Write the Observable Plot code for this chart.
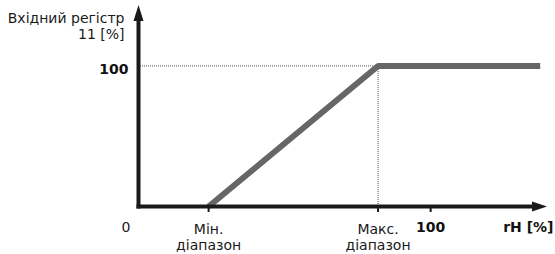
<!DOCTYPE html>
<html>
<head>
<meta charset="utf-8">
<script src="https://cdn.jsdelivr.net/npm/d3@7"></script>
<script src="https://cdn.jsdelivr.net/npm/@observablehq/plot@0.6"></script>
<style>
  html, body { margin: 0; padding: 0; background: #fff; }
  #chart svg { display: block; }
</style>
</head>
<body>
<div id="chart"></div>
<script>
// ---- data ----
const xDomain = [0, 140];
const yDomain = [0, 143];
const seriesX = [24, 82, 137.5];
const seriesY = [0, 100, 100];
const xTickValues = [24, 82, 100];
const xTickLabels = ["Мін.\nдіапазон", "Макс.\nдіапазон", "100"];
const xTickBold = [false, false, true];
const yTickValues = [100];
const yTickLabels = ["100"];
const originLabel = "0";
const xAxisTitle = "rH [%]";
const yAxisTitle = "Вхідний регістр\n11 [%]";

const font = "DejaVu Sans, Verdana, sans-serif";
const series = seriesX.map((x, i) => ({x, y: seriesY[i]}));
const xTicks = xTickValues.map((v, i) => ({x: v, label: xTickLabels[i], bold: xTickBold[i]}));
const yTicks = yTickValues.map((v, i) => ({y: v, label: yTickLabels[i]}));
const kneeX = seriesX[1], kneeY = seriesY[1];

function axesMark(index, scales, values, dimensions) {
  const x = scales.x, y = scales.y;
  const x0 = x(xDomain[0]) + 0.5, xE = x(xDomain[1]);
  const y0 = y(yDomain[0]) + 0.5, yT = y(yDomain[1]);
  const g = d3.create("svg:g");
  const col = "#1a1a1a";
  g.append("line").attr("x1", x0 - 2).attr("x2", xE - 14).attr("y1", y0).attr("y2", y0)
    .attr("stroke", col).attr("stroke-width", 4);
  g.append("line").attr("x1", x0).attr("x2", x0).attr("y1", y0 + 2).attr("y2", yT + 15)
    .attr("stroke", col).attr("stroke-width", 4);
  g.append("path").attr("d", `M${xE - 15},${y0 - 5}L${xE},${y0}L${xE - 15},${y0 + 5}Z`).attr("fill", col);
  g.append("path").attr("d", `M${x0 - 5},${yT + 16}L${x0},${yT}L${x0 + 5},${yT + 16}Z`).attr("fill", col);
  return g.node();
}

const FS = 14;
const chart = Plot.plot({
  width: 555,
  height: 254,
  marginLeft: 138,
  marginRight: 8,
  marginTop: 5,
  marginBottom: 48,
  style: {fontFamily: font, fontSize: FS + "px", background: "#fff", color: "#1a1a1a", overflow: "visible"},
  x: {domain: xDomain, axis: null},
  y: {domain: yDomain, axis: null},
  marks: [
    // dotted guides
    Plot.ruleY([kneeY], {x1: xDomain[0], x2: kneeX, stroke: "#555", strokeWidth: 1, strokeDasharray: "1,1"}),
    Plot.ruleX([kneeX], {y1: yDomain[0], y2: kneeY, stroke: "#555", strokeWidth: 1, strokeDasharray: "1,1"}),
    // series
    Plot.line(series, {x: "x", y: "y", stroke: "#666", strokeWidth: 6, strokeLinejoin: "miter", strokeLinecap: "butt"}),
    // ticks
    Plot.axisX({ticks: xTickValues, tickSize: 6, tickFormat: () => "", stroke: "#1a1a1a", strokeWidth: 2, label: null, anchor: "bottom"}),
    axesMark,
    // x tick labels
    Plot.text(xTicks.filter(d => !d.bold), {x: "x", text: "label", frameAnchor: "bottom", lineAnchor: "top", dy: 16, lineHeight: 1.15, fill: "#1a1a1a", fontSize: FS}),
    Plot.text(xTicks.filter(d => d.bold), {x: "x", text: "label", frameAnchor: "bottom", lineAnchor: "top", dy: 16, fill: "#111", fontSize: FS, fontWeight: "bold"}),
    Plot.text([originLabel], {frameAnchor: "bottom-left", lineAnchor: "top", dx: -17, dy: 16, fill: "#1a1a1a", fontSize: FS}),
    Plot.text([xAxisTitle], {frameAnchor: "bottom-right", lineAnchor: "top", textAnchor: "end", dx: 6, dy: 16, fill: "#111", fontSize: FS, fontWeight: "bold"}),
    // y tick labels
    Plot.text(yTicks, {y: "y", text: "label", frameAnchor: "left", textAnchor: "end", dx: -10, dy: 4, fill: "#111", fontSize: FS, fontWeight: "bold"}),
    Plot.text([yAxisTitle], {frameAnchor: "top-left", lineAnchor: "top", textAnchor: "end", dx: -14, dy: 6, lineHeight: 1.15, fill: "#1a1a1a", fontSize: FS})
  ]
});
document.getElementById("chart").append(chart);
</script>
</body>
</html>
